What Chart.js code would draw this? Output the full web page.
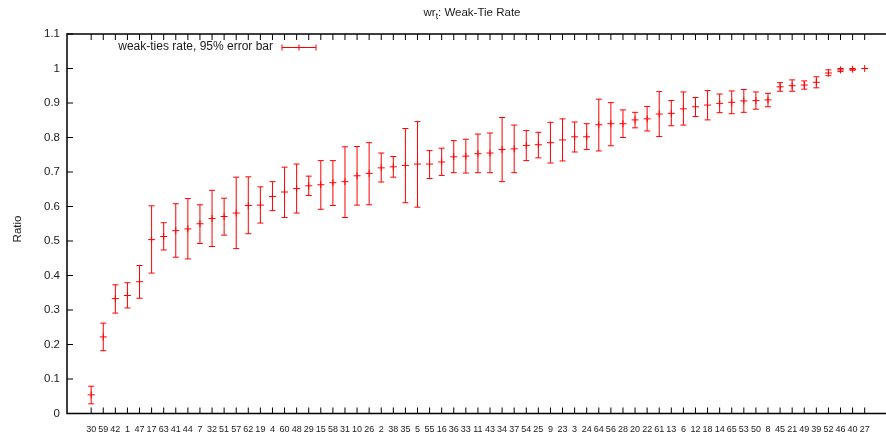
<!DOCTYPE html>
<html>
<head>
<meta charset="utf-8">
<script src="https://cdn.jsdelivr.net/npm/chart.js@4.4.1/dist/chart.umd.min.js"></script>
<style>
  html, body { margin: 0; padding: 0; background: #fff; overflow: hidden; }
  #wrap { width: 886px; height: 436px; position: relative; }
</style>
</head>
<body>
<div id="wrap"><canvas id="c" width="886" height="436"></canvas></div>
<script>
// Network ids, ordered by weak-tie rate
const categories = ['30','59','42','1','47','17','63','41','44','7','32','51','57','62','19','4','60','48','29','15',
  '58','31','10','26','2','38','35','5','55','16','36','33','11','43','34','37','54','25','9','23',
  '3','24','64','56','28','20','22','61','13','6','12','18','14','65','53','50','8','45','21','49',
  '39','52','46','40','27'];

// Weak-tie rate per network
const rates = [0.054,0.222,0.333,0.342,0.382,0.504,0.513,0.530,0.535,0.550,0.565,0.571,0.581,0.603,0.604,0.629,0.642,0.652,0.660,0.663,
  0.669,0.672,0.689,0.696,0.712,0.715,0.719,0.723,0.723,0.729,0.744,0.746,0.753,0.755,0.765,0.767,0.777,0.779,0.785,0.793,
  0.802,0.802,0.837,0.840,0.840,0.851,0.854,0.868,0.870,0.883,0.889,0.894,0.899,0.902,0.906,0.907,0.909,0.947,0.950,0.952,
  0.960,0.987,0.996,0.998,1.000];

// 95% interval, lower end
const lowerBounds = [0.028,0.182,0.291,0.306,0.334,0.407,0.474,0.453,0.448,0.493,0.484,0.517,0.478,0.521,0.552,0.588,0.568,0.581,0.632,0.592,
  0.603,0.568,0.604,0.605,0.671,0.685,0.611,0.598,0.681,0.690,0.698,0.697,0.698,0.698,0.672,0.698,0.733,0.741,0.726,0.732,
  0.758,0.765,0.761,0.776,0.800,0.828,0.819,0.803,0.834,0.836,0.861,0.851,0.872,0.869,0.873,0.882,0.889,0.934,0.934,0.940,
  0.944,0.979,0.991,0.995,1.000];

// 95% interval, upper end
const upperBounds = [0.079,0.262,0.373,0.379,0.429,0.602,0.553,0.608,0.623,0.605,0.647,0.624,0.685,0.686,0.657,0.672,0.714,0.723,0.688,0.733,
  0.733,0.773,0.774,0.785,0.755,0.745,0.826,0.846,0.762,0.769,0.791,0.795,0.810,0.813,0.858,0.836,0.820,0.815,0.844,0.854,
  0.845,0.840,0.911,0.901,0.880,0.873,0.890,0.933,0.907,0.932,0.916,0.936,0.926,0.935,0.939,0.932,0.928,0.959,0.967,0.964,
  0.976,0.996,1.000,1.000,1.000];

const yTickValues = [0,0.1,0.2,0.3,0.4,0.5,0.6,0.7,0.8,0.9,1.0,1.1];
const yTickLabels = ['0','0.1','0.2','0.3','0.4','0.5','0.6','0.7','0.8','0.9','1','1.1'];

const FONT = '"Liberation Sans", Arial, Helvetica, sans-serif';
const RED = '#ff0000';
const INK = '#1a1a1a';
const X_OFFSET = 2; // first network sits at x = 2

// Frame, inward ticks, error bars, legend, title and axis name
const decorations = {
  id: 'decorations',
  beforeDatasetsDraw(chart) {
    const { ctx, chartArea: a, scales: { x, y } } = chart;
    ctx.save();
    // error bars
    ctx.strokeStyle = RED;
    ctx.lineWidth = 1;
    rates.forEach((r, i) => {
      const px = x.getPixelForValue(i + X_OFFSET);
      const yl = y.getPixelForValue(lowerBounds[i]);
      const yh = y.getPixelForValue(upperBounds[i]);
      if (Math.abs(yl - yh) < 0.5) return;
      ctx.beginPath();
      ctx.moveTo(px, yl); ctx.lineTo(px, yh);
      ctx.moveTo(px - 3, yl); ctx.lineTo(px + 3, yl);
      ctx.moveTo(px - 3, yh); ctx.lineTo(px + 3, yh);
      ctx.stroke();
    });
    ctx.restore();
  },
  afterDraw(chart) {
    const { ctx, chartArea: a, scales: { x, y } } = chart;
    ctx.save();
    // frame (right side runs off the canvas)
    ctx.strokeStyle = '#000';
    ctx.lineWidth = 1.5;
    ctx.beginPath();
    ctx.moveTo(chart.width + 2, a.top);
    ctx.lineTo(a.left, a.top);
    ctx.lineTo(a.left, a.bottom);
    ctx.lineTo(chart.width + 2, a.bottom);
    ctx.stroke();

    // inward tick marks
    ctx.lineWidth = 1;
    ctx.strokeStyle = '#000';
    ctx.beginPath();
    categories.forEach((c, i) => {
      const px = x.getPixelForValue(i + X_OFFSET);
      ctx.moveTo(px, a.bottom); ctx.lineTo(px, a.bottom - 6);
      ctx.moveTo(px, a.top); ctx.lineTo(px, a.top + 6);
    });
    yTickValues.forEach(v => {
      const py = y.getPixelForValue(v);
      ctx.moveTo(a.left, py); ctx.lineTo(a.left + 6, py);
    });
    ctx.stroke();

    // title: wr_t: Weak-Tie Rate
    const size = 11.5;
    ctx.fillStyle = INK;
    ctx.textBaseline = 'alphabetic';
    ctx.font = size + 'px ' + FONT;
    const p1 = 'wr', p3 = ': Weak-Tie Rate';
    const w1 = ctx.measureText(p1).width;
    const w3 = ctx.measureText(p3).width;
    ctx.font = (size * 0.75) + 'px ' + FONT;
    const w2 = ctx.measureText('t').width;
    const total = w1 + w2 + w3;
    let tx = 472 - total / 2;
    const base = 16;
    ctx.font = size + 'px ' + FONT;
    ctx.textAlign = 'left';
    ctx.fillText(p1, tx, base); tx += w1;
    ctx.font = (size * 0.75) + 'px ' + FONT;
    ctx.fillText('t', tx, base + 3); tx += w2;
    ctx.font = size + 'px ' + FONT;
    ctx.fillText(p3, tx, base);

    // axis name
    ctx.save();
    ctx.translate(18, 229);
    ctx.rotate(-Math.PI / 2);
    ctx.textAlign = 'center';
    ctx.textBaseline = 'middle';
    ctx.font = '11.5px ' + FONT;
    ctx.fillText('Ratio', 0, 0);
    ctx.restore();

    // key
    ctx.font = '12px ' + FONT;
    ctx.textAlign = 'right';
    ctx.textBaseline = 'middle';
    ctx.fillText('weak-ties rate, 95% error bar', 273, 47);
    ctx.strokeStyle = RED;
    ctx.lineWidth = 1;
    const ky = 47.5;
    ctx.beginPath();
    ctx.moveTo(282, ky); ctx.lineTo(316, ky);
    ctx.moveTo(282, ky - 3); ctx.lineTo(282, ky + 3);
    ctx.moveTo(316, ky - 3); ctx.lineTo(316, ky + 3);
    ctx.moveTo(299, ky - 3); ctx.lineTo(299, ky + 3);
    ctx.stroke();
    ctx.restore();
  }
};

new Chart(document.getElementById('c'), {
  type: 'scatter',
  data: {
    datasets: [{
      label: 'weak-ties rate, 95% error bar',
      data: rates.map((r, i) => ({ x: i + X_OFFSET, y: r })),
      pointStyle: 'cross',
      pointRadius: 3.5,
      pointBorderWidth: 1,
      borderColor: RED,
      backgroundColor: RED,
      showLine: false
    }]
  },
  options: {
    responsive: false,
    animation: false,
    devicePixelRatio: 1,
    layout: { padding: { top: 34, left: 0, right: 0, bottom: 0 } },
    plugins: { legend: { display: false }, tooltip: { enabled: false }, title: { display: false } },
    scales: {
      x: {
        type: 'linear',
        min: 0,
        max: 67.35,
        grid: { display: false, drawTicks: false },
        border: { display: false },
        afterBuildTicks: s => { s.ticks = categories.map((c, i) => ({ value: i + X_OFFSET })); },
        afterFit: s => { s.height = 22.5; },
        ticks: {
          autoSkip: false,
          maxRotation: 0,
          minRotation: 0,
          padding: 11,
          color: INK,
          font: { family: FONT, size: 9 },
          callback: (v, i) => categories[i]
        }
      },
      y: {
        min: 0,
        max: 1.1,
        grid: { display: false, drawTicks: false },
        border: { display: false },
        afterBuildTicks: s => { s.ticks = yTickValues.map(v => ({ value: v })); },
        afterFit: s => { s.width = 67; },
        ticks: {
          padding: 7,
          color: INK,
          font: { family: FONT, size: 11.5 },
          callback: (v, i) => yTickLabels[i]
        }
      }
    }
  },
  plugins: [decorations]
});
</script>
</body>
</html>
